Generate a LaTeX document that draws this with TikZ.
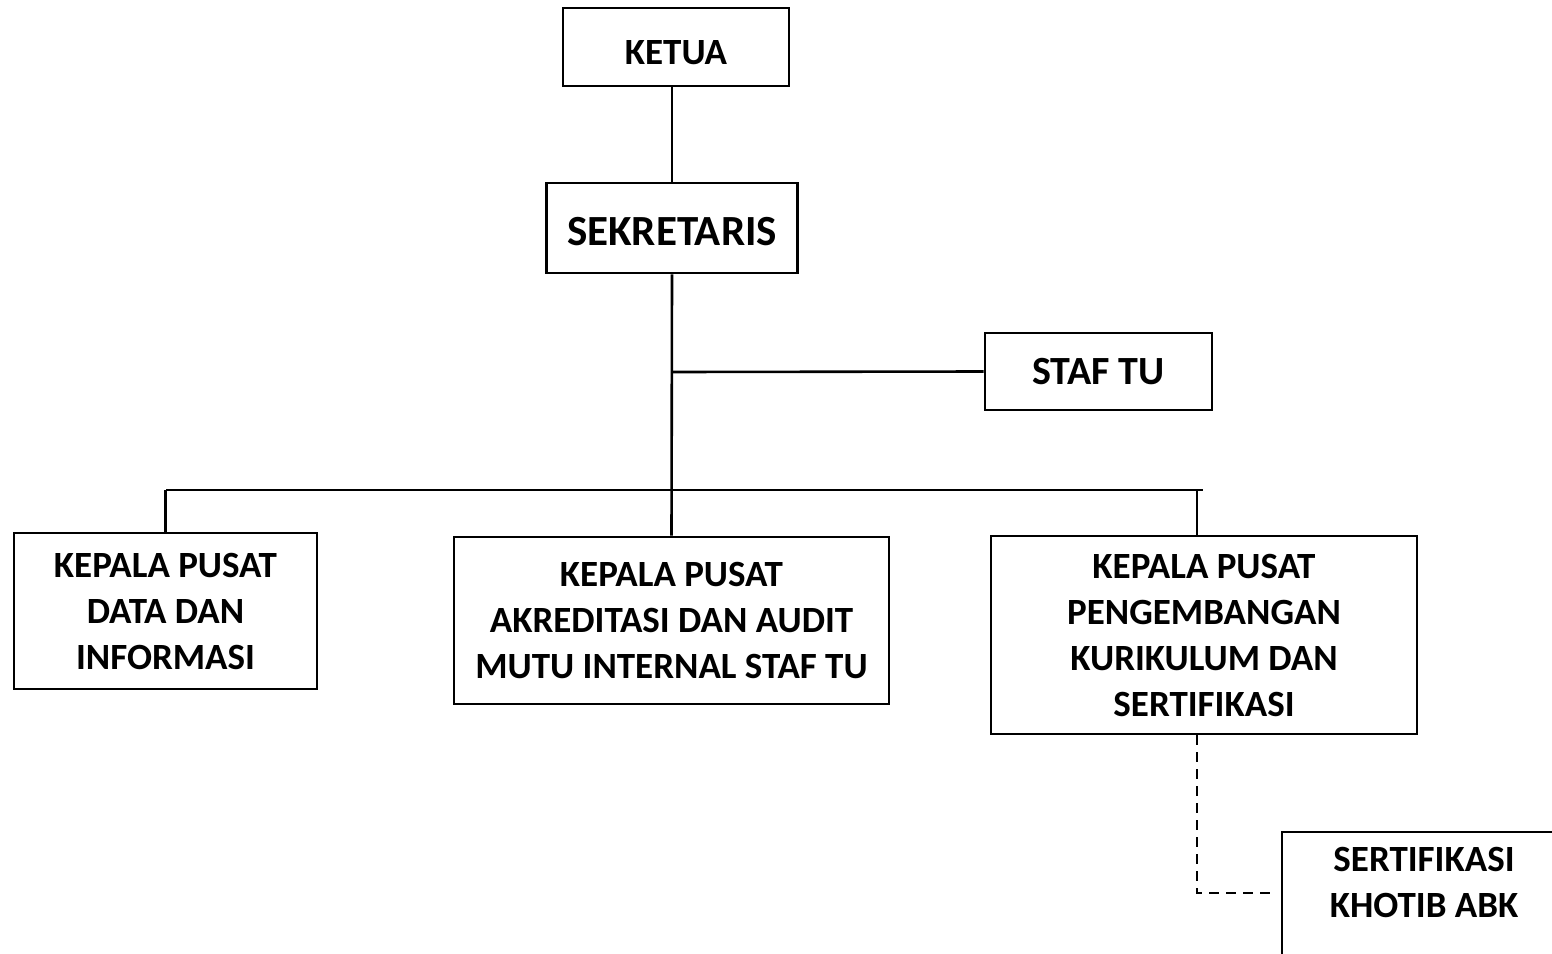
\documentclass[tikz,border=0pt]{standalone}
\usepackage{fontspec}
\setmainfont{Carlito}
\begin{document}
\begin{tikzpicture}[x=1pt,y=-1pt,
  box/.style={draw,line width=2.6pt,align=center,inner sep=0pt,
    font=\bfseries\fontsize{37}{46}\selectfont},
  conn/.style={line width=2.6pt},
  dconn/.style={line width=2.6pt,dash pattern=on 10pt off 7pt}]
\clip (0,0) rectangle (1552,953);
\fill[white] (0,0) rectangle (1552,953);
\node[box,minimum width=226,minimum height=78,text height=34pt,text depth=0pt] (ketua) at (676,47) {KETUA};
\node[box,minimum width=251,minimum height=90,text height=35.6pt,text depth=0pt,font=\bfseries\fontsize{43}{50}\selectfont] (sek) at (672,228) {SEKRETARIS};
\node[box,minimum width=227,minimum height=77,font=\bfseries\fontsize{40}{48}\selectfont] (staf) at (1098.5,371.5) {STAF TU};
\node[box,minimum width=303,minimum height=156] (left) at (165.5,611) {KEPALA PUSAT\\DATA DAN\\INFORMASI};
\node[box,minimum width=435,minimum height=167] (mid) at (671.5,620.5) {KEPALA PUSAT\\AKREDITASI DAN AUDIT\\MUTU INTERNAL STAF TU};
\node[box,minimum width=426,minimum height=198] (right) at (1204,635) {KEPALA PUSAT\\PENGEMBANGAN\\KURIKULUM DAN\\SERTIFIKASI};
\node[box,minimum width=284,minimum height=146] (sert) at (1424,905) {SERTIFIKASI\\KHOTIB ABK\\~};
\coordinate (stafj) at (676,372);
\coordinate (busL) at (166,490);
\coordinate (busR) at (1203,490);
\coordinate (rdrop) at (1197,490);
\coordinate (dturn) at (1197,893);
\coordinate (dend) at (1274,893);
\draw[conn] (ketua.south -| 672,0) -- (sek.north);
\draw[conn] (sek.south) -- (mid.north);
\draw[conn] (sek.south |- stafj) -- (staf.west);
\draw[conn] (busL) -- (busR);
\draw[conn] (left.north |- busL) -- (left.north);
\draw[conn] (rdrop) -- (rdrop |- right.north);
\draw[dconn] (rdrop |- right.south) -- (dturn) -- (dend);
\end{tikzpicture}
\end{document}
